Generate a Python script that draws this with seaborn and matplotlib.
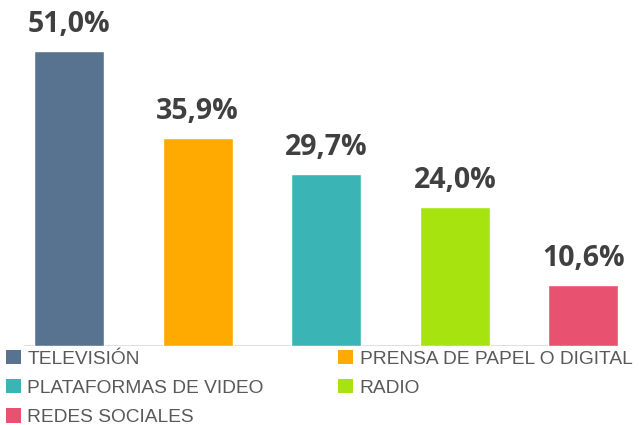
import matplotlib
matplotlib.use("Agg")
import matplotlib.pyplot as plt
from matplotlib.patches import Patch
from matplotlib import font_manager
import pandas as pd
import seaborn as sns

# data
medios = ["TELEVISIÓN", "PRENSA DE PAPEL O DIGITAL", "PLATAFORMAS DE VIDEO", "RADIO", "REDES SOCIALES"]
porcentajes = [51.0, 35.9, 29.7, 24.0, 10.6]
colores = ["#587390", "#FFAA00", "#3AB4B4", "#A6E30F", "#E8516F"]

df = pd.DataFrame({"medio": medios, "pct": porcentajes})

sns.set_style("white")
names = {f.name for f in font_manager.fontManager.ttflist}
legend_font = "Liberation Sans Narrow" if "Liberation Sans Narrow" in names else "Liberation Sans"

fig = plt.figure(figsize=(6.39, 4.25), dpi=100)
ax = fig.add_axes([24 / 639, 79 / 425, 598 / 639, 346 / 425])

sns.barplot(data=df, x="medio", y="pct", hue="medio", palette=colores,
            order=medios, hue_order=medios, width=0.545, legend=False,
            saturation=1, ax=ax)

ax.set_xlim(-0.35, 4.3)
ax.set_ylim(0, 59.8)
for s in ax.spines.values():
    s.set_visible(False)
ax.set_xticks([])
ax.set_yticks([])
ax.set_xlabel("")
ax.set_ylabel("")
ax.axhline(0, xmin=0, xmax=0.98, color="#D9D9D9", lw=1.2, zorder=0)

# value labels
for i, v in enumerate(porcentajes):
    ax.annotate(f"{v:.1f}%".replace(".", ","), (i, v), xytext=(0, 19),
                textcoords="offset points", ha="center", va="center",
                fontsize=20.5, fontweight="bold", family="Open Sans",
                color="#404040")

# legend, row order TV/Prensa, Plataformas/Radio, Redes
orden = [0, 2, 4, 1, 3]
handles = [Patch(facecolor=colores[i], edgecolor="none") for i in orden]
labels = [medios[i] for i in orden]
fig.legend(handles, labels, ncol=2, loc="upper left",
           bbox_to_anchor=(0 / 639, 1 - 344 / 425), frameon=False,
           prop={"family": legend_font, "size": 13.8},
           labelcolor="#595959", handlelength=0.77, handleheight=0.77,
           handletextpad=0.35, columnspacing=3.9, labelspacing=0.6,
           borderaxespad=0, borderpad=0.3)

fig.savefig("out.png", dpi=100)
